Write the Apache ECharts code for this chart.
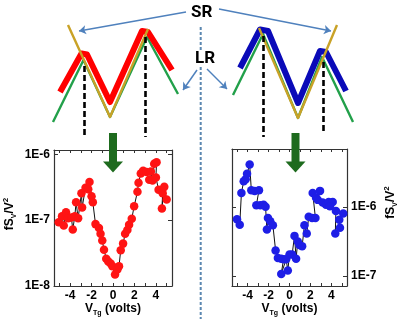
<!DOCTYPE html>
<html><head><meta charset="utf-8">
<script src="https://cdn.jsdelivr.net/npm/echarts@6/dist/echarts.min.js"></script>
<style>html,body{margin:0;padding:0;background:#fff}#c{width:400px;height:319px}</style>
</head><body><div id="c"></div>
<script>
// ---- tick labels ----
const xTickLabels = [-4, -2, 0, 2, 4];
const xTickMarks = [-5, -4, -3, -2, -1, 0, 1, 2, 3, 4, 5];
const yTickLabelsLeft = [1e-8, 1e-7, 1e-6];
const yTickLabelsRight = [1e-7, 1e-6];

// ---- left panel (red) : V_Tg (volts), fS_V/V^2 ----
const leftVtg = [-5.06,-4.75,-4.59,-4.38,-4.19,-3.88,-3.75,-3.56,-3.44,-3.25,-2.94,-2.88,-2.56,-2.31,-2.19,-2.0,-1.88,-1.63,-1.31,-1.16,-1.0,-0.84,-0.63,-0.44,-0.22,-0.06,0.19,0.41,0.56,0.72,0.94,1.13,1.34,1.5,1.75,1.97,2.28,2.38,2.59,2.81,3.13,3.38,3.53,3.69,3.84,4.06,4.0,4.25,4.63,4.56,4.78,5.0];
const leftNoise = [9.3e-8,1.15e-7,8.3e-8,1.32e-7,1.07e-7,1.10e-7,7.2e-8,1.15e-7,1.87e-7,1.07e-7,2.57e-7,1.55e-7,3.1e-7,2.95e-7,3.8e-7,2.3e-7,1.87e-7,8.7e-8,7.6e-8,6.2e-8,4.9e-8,3.55e-8,2.6e-8,2.35e-8,2.2e-8,2.0e-8,1.5e-8,1.78e-8,2.0e-8,3.5e-8,4.4e-8,6.2e-8,7.1e-8,8.5e-8,1.05e-7,1.62e-7,2.7e-7,3.7e-7,5.1e-7,5.6e-7,5.4e-7,4.1e-7,5.5e-7,4.0e-7,7.2e-7,7.6e-7,4.45e-7,2.9e-7,2.55e-7,1.5e-7,3.2e-7,2.05e-7];

// ---- right panel (blue) ----
const rightVtg = [-5.02,-4.76,-4.6,-4.38,-4.19,-4.06,-3.81,-3.65,-3.33,-2.92,-3.17,-2.79,-2.48,-2.29,-2.16,-2.06,-1.84,-1.59,-1.33,-1.11,-0.79,-0.57,-0.79,-0.32,-0.16,0.0,0.25,0.48,0.63,0.79,0.95,1.21,1.43,1.65,1.84,2.16,2.48,2.22,2.54,2.92,2.7,3.17,3.49,3.75,4.13,3.87,4.44,4.38,4.83,4.76,5.14];
const rightNoise = [6.6e-7,5.5e-7,1.58e-6,2.35e-6,2.5e-6,3.0e-6,4.1e-6,1.74e-6,1.7e-6,1.74e-6,1.05e-6,1.05e-6,1.07e-6,1.0e-6,4.7e-7,6.9e-7,6.2e-7,5.4e-7,2.34e-7,1.82e-7,1.78e-7,1.74e-7,1.07e-7,1.74e-7,1.2e-7,2.04e-7,2.04e-7,3.8e-7,1.78e-7,3.16e-7,2.8e-7,2.7e-7,5.4e-7,4.1e-7,7.2e-7,6.9e-7,6.9e-7,1.58e-6,1.35e-6,1.7e-6,1.26e-6,1.15e-6,1.07e-6,1.17e-6,1.17e-6,1.02e-6,8.7e-7,4.1e-7,5.0e-7,6.5e-7,8.0e-7];

// ---- schematic (page-space overlay axes) ----
const redBand = [[60,92],[81.5,53.5],[87,54.5],[110,102],[142,31],[148,32],[172,70]];
const goldLeft = [[68,25],[110,117],[148,29]];
const greenLeft = [[53,122],[83.5,60],[110,117],[147,37],[178,94]];
const blueBand = [[240,68],[260,29.5],[268,31],[298,103],[320,51],[326,52],[346,91]];
const goldRight = [[259,28],[298,118],[337,25]];
const greenRight = [[233,95],[263,34],[298,118],[322,57],[353,122]];
const dashedMarks = [[[84.5,66],[84.5,136]],[[145.5,37],[145.5,137]],[[263.5,36],[263.5,137]],[[323.5,62],[323.5,134]]];
const dividerParts = [[[200.7,27],[200.7,50]],[[200.7,67],[200.7,319]]];
const pointerArrows = [[[186,12],[79,31]],[[219,9],[331,31]],[[197,70],[183,90]],[[207,69],[227,89]]];
const bigArrowShafts = [[[113,133],[113,163]],[[295.5,133],[295.5,163]]];
const bigArrowHeads = [[113,167],[295.5,167]];

const FONT = 'Liberation Sans';
const AX = '#333';
const pair = (xs, ys) => xs.map((x, i) => [x, ys[i]]);
const fmtE = v => '1E' + Math.round(Math.log10(v));
const richName = {
  a: {fontFamily: FONT, fontWeight: 'bold', fontSize: 12, color: '#000', lineHeight: 16, verticalAlign: 'middle'},
  s: {fontFamily: FONT, fontWeight: 'bold', fontSize: 7, color: '#000', lineHeight: 8, verticalAlign: 'bottom'},
  p: {fontFamily: FONT, fontWeight: 'bold', fontSize: 8, color: '#000', lineHeight: 8, verticalAlign: 'top'}
};
const yName = '{a|fS}{s|V}{a|/V}{p|2}';
const xName = '{a|V}{s|Tg}{a| (volts)}';

function xAxisMain(grid) {
  return {gridIndex: grid, type: 'value', position: 'bottom', min: -5.5, max: 5.5,
    axisLine: {show: true, onZero: false, lineStyle: {color: AX, width: 1.2}},
    axisTick: {show: true, inside: true, length: 3, customValues: xTickMarks, lineStyle: {color: AX}},
    axisLabel: {customValues: xTickLabels, margin: 4, fontFamily: FONT, fontWeight: 'bold', fontSize: 12, color: '#000'},
    splitLine: {show: false},
    name: xName, nameLocation: 'middle', nameGap: 14, nameTextStyle: {rich: richName}};
}
function xAxisMirror(grid) {
  return {gridIndex: grid, type: 'value', position: 'top', min: -5.5, max: 5.5,
    axisLine: {show: true, onZero: false, lineStyle: {color: AX, width: 1.2}},
    axisTick: {show: true, inside: true, length: 3, customValues: xTickMarks, lineStyle: {color: AX}},
    axisLabel: {show: false}, splitLine: {show: false}};
}
function yAxisLog(grid, pos, min, max, labels, withName, namePad) {
  const a = {gridIndex: grid, type: 'log', logBase: 10, position: pos, min: min, max: max,
    axisLine: {show: true, onZero: false, lineStyle: {color: AX, width: 1.2}},
    axisTick: {show: true, inside: true, length: 4, customValues: [1e-8, 1e-7, 1e-6].filter(v => v >= min && v <= max), lineStyle: {color: AX}},
    axisLabel: labels ? {customValues: labels, formatter: fmtE, margin: 4, fontFamily: FONT, fontWeight: 'bold', fontSize: 12, color: '#000'} : {show: false},
    splitLine: {show: false}};
  if (withName) {
    a.name = yName; a.nameLocation = 'middle'; a.nameRotate = 90; a.nameGap = withName;
    a.nameTextStyle = {rich: richName, padding: namePad || 0};
  }
  return a;
}

const leftMin = 1e-8, leftMax = Math.pow(10, -5.935);
const rightMin = Math.pow(10, -7.145), rightMax = Math.pow(10, -5.164);

const overlayX = {gridIndex: 2, type: 'value', min: 0, max: 400, show: false};
const overlayY = {gridIndex: 2, type: 'value', min: 0, max: 319, inverse: true, show: false};

function sLine(data, color, width, extra) {
  return Object.assign({type: 'line', xAxisIndex: 4, yAxisIndex: 4, data: data, symbol: 'none', silent: true,
    lineStyle: {color: color, width: width, cap: 'butt', join: 'round'}, z: 3}, extra || {});
}

const series = [
  {type: 'line', xAxisIndex: 0, yAxisIndex: 0, data: pair(leftVtg, leftNoise), symbol: 'circle', symbolSize: 8.5,
   itemStyle: {color: '#ff1414'}, lineStyle: {color: '#111', width: 1}, z: 2},
  {type: 'line', xAxisIndex: 2, yAxisIndex: 2, data: pair(rightVtg, rightNoise), symbol: 'circle', symbolSize: 8.5,
   itemStyle: {color: '#1e1ee6'}, lineStyle: {color: '#111', width: 1}, z: 2},
  sLine(greenLeft, '#22a04a', 2.4),
  sLine(redBand, '#ff0000', 6),
  sLine(goldLeft, '#c9a227', 2.4),
  sLine(greenRight, '#22a04a', 2.4),
  sLine(blueBand, '#0a0ab8', 6),
  sLine(goldRight, '#c9a227', 2.4)
];
dashedMarks.forEach(d => series.push(sLine(d, '#000', 2.6, {lineStyle: {color: '#000', width: 2.6, type: [6, 3]}})));
dividerParts.forEach(d => series.push(sLine(d, '#5b87b0', 2, {lineStyle: {color: '#5b87b0', width: 2, type: [3, 2]}})));
bigArrowShafts.forEach(d => series.push(sLine(d, '#1e6b1e', 8, {z: 6})));
series.push({type: 'scatter', xAxisIndex: 4, yAxisIndex: 4, data: bigArrowHeads, symbol: 'triangle', symbolRotate: 180,
  symbolSize: [20, 11], itemStyle: {color: '#1e6b1e', opacity: 1}, silent: true, z: 6});
series.push({type: 'lines', coordinateSystem: 'cartesian2d', xAxisIndex: 4, yAxisIndex: 4, silent: true,
  data: pointerArrows.map(c => ({coords: c})), symbol: ['none', 'arrow'], symbolSize: 7,
  lineStyle: {color: '#4f81bd', width: 1.5, opacity: 1}, z: 4});

const option = {
  animation: false,
  backgroundColor: '#fff',
  grid: [
    {left: 54, top: 150, width: 118, height: 136},
    {left: 232, top: 149, width: 116, height: 137},
    {left: 0, top: 0, width: 400, height: 319}
  ],
  xAxis: [xAxisMain(0), xAxisMirror(0), xAxisMain(1), xAxisMirror(1), overlayX],
  yAxis: [
    yAxisLog(0, 'left', leftMin, leftMax, yTickLabelsLeft, 36, [0, 0, 0, 8]),
    yAxisLog(0, 'right', leftMin, leftMax, null, 0),
    yAxisLog(1, 'right', rightMin, rightMax, yTickLabelsRight, 36, [0, 0, 0, 30]),
    yAxisLog(1, 'left', rightMin, rightMax, null, 0),
    overlayY
  ],
  graphic: [
    {type: 'text', left: 191, top: 4, style: {text: 'SR', font: 'bold 17px Roboto', fill: '#000'}, z: 10},
    {type: 'text', left: 195, top: 50, style: {text: 'LR', font: 'bold 17px Roboto', fill: '#000'}, z: 10}
  ],
  series: series
};
const chart = echarts.init(document.getElementById('c'), null, {renderer: 'canvas'});
chart.setOption(option);
</script></body></html>
